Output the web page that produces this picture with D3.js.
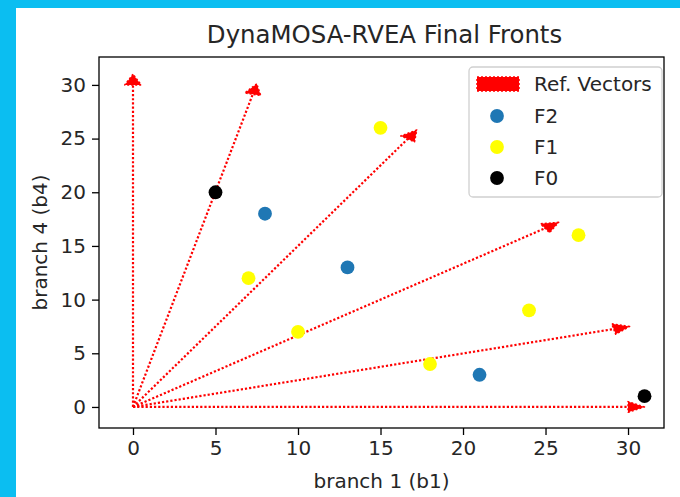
<!DOCTYPE html>
<html>
<head>
<meta charset="utf-8">
<script src="https://cdn.jsdelivr.net/npm/d3@7"></script>
<style>
  html, body { margin: 0; padding: 0; background: #0bbef1; }
  svg { display: block; }
</style>
</head>
<body>
<script>
// ---- data ----
const title = "DynaMOSA-RVEA Final Fronts";
const xLabel = "branch 1 (b1)";
const yLabel = "branch 4 (b4)";
const xTicks = [0, 5, 10, 15, 20, 25, 30];
const yTicks = [0, 5, 10, 15, 20, 25, 30];

// reference vectors: tip points (arrows start at origin)
const refX = [31, 30.1, 25.8, 17.2, 7.5, 0];
const refY = [0, 7.5, 17.2, 25.8, 30.1, 31];

const f2X = [8, 13, 21];
const f2Y = [18, 13, 3];
const f1X = [15, 27, 7, 10, 24, 18];
const f1Y = [26, 16, 12, 7, 9, 4];
const f0X = [5, 31];
const f0Y = [20, 1];

const seriesNames = ["F2", "F1", "F0"];
const seriesColors = ["#1f77b4", "#ffff00", "#000000"];

// ---- layout ----
const W = 680, H = 497;
const svg = d3.select("body").append("svg").attr("width", W).attr("height", H);
svg.append("rect").attr("x", 16).attr("y", 8).attr("width", W - 16).attr("height", H - 8).attr("fill", "#ffffff");

const plot = { left: 99, right: 664, top: 57, bottom: 428 };
const x = d3.scaleLinear().domain([-2.06, 32.18]).range([plot.left, plot.right]);
const y = d3.scaleLinear().domain([-1.96, 32.6]).range([plot.bottom, plot.top]);

const font = "DejaVu Sans, sans-serif";

// ---- arrows ----
const headLen = 1.0, headW = 1.0;
const gArr = svg.append("g");
refX.forEach((tx, i) => {
  const ty = refY[i];
  const L = Math.hypot(tx, ty);
  const ux = tx / L, uy = ty / L;
  const px = -uy, py = ux;
  const bx = tx - headLen * ux, by = ty - headLen * uy;
  gArr.append("line")
    .attr("x1", x(0)).attr("y1", y(0))
    .attr("x2", x(bx)).attr("y2", y(by))
    .attr("stroke", "#ff0000").attr("stroke-width", 2.2)
    .attr("stroke-dasharray", "2.2,2");
  const pts = [[tx, ty], [bx + px * headW / 2, by + py * headW / 2], [bx - px * headW / 2, by - py * headW / 2]];
  gArr.append("polygon")
    .attr("points", pts.map(p => x(p[0]) + "," + y(p[1])).join(" "))
    .attr("fill", "#ff0000").attr("stroke", "#ff0000").attr("stroke-width", 1.5)
    .attr("stroke-dasharray", "2,2").attr("stroke-linejoin", "round");
});

// ---- points ----
const R = 6.9;
const seriesX = [f2X, f1X, f0X];
const seriesY = [f2Y, f1Y, f0Y];
seriesX.forEach((xs, s) => {
  svg.append("g").selectAll("circle").data(xs).join("circle")
    .attr("cx", d => x(d)).attr("cy", (d, i) => y(seriesY[s][i]))
    .attr("r", R).attr("fill", seriesColors[s]);
});

// ---- axes ----
const xAxis = d3.axisBottom(x).tickValues(xTicks).tickSize(7).tickPadding(6).tickFormat(d3.format("d"));
const yAxis = d3.axisLeft(y).tickValues(yTicks).tickSize(7).tickPadding(6).tickFormat(d3.format("d"));
const gx = svg.append("g").attr("transform", `translate(0,${plot.bottom})`).call(xAxis);
const gy = svg.append("g").attr("transform", `translate(${plot.left},0)`).call(yAxis);
[gx, gy].forEach(g => {
  g.select(".domain").remove();
  g.selectAll(".tick line").attr("stroke", "#000").attr("stroke-width", 1.3);
  g.selectAll(".tick text").attr("fill", "#262626").attr("font-family", font).attr("font-size", 20);
});

svg.append("rect")
  .attr("x", plot.left).attr("y", plot.top)
  .attr("width", plot.right - plot.left).attr("height", plot.bottom - plot.top)
  .attr("fill", "none").attr("stroke", "#000").attr("stroke-width", 1.3);

// ---- titles ----
const cx = (plot.left + plot.right) / 2;
svg.append("text").attr("x", cx + 3).attr("y", 43).attr("text-anchor", "middle")
  .attr("font-family", font).attr("font-size", 24.4).attr("fill", "#262626").text(title);
svg.append("text").attr("x", cx).attr("y", 488).attr("text-anchor", "middle")
  .attr("font-family", font).attr("font-size", 20).attr("fill", "#262626").text(xLabel);
svg.append("text").attr("transform", `translate(47,${(plot.top + plot.bottom) / 2}) rotate(-90)`)
  .attr("text-anchor", "middle")
  .attr("font-family", font).attr("font-size", 20).attr("fill", "#262626").text(yLabel);

// ---- legend ----
const lg = svg.append("g");
lg.append("rect").attr("x", 469).attr("y", 67).attr("width", 193).attr("height", 130)
  .attr("rx", 4).attr("fill", "#fff").attr("fill-opacity", 0.8)
  .attr("stroke", "#d0d0d0").attr("stroke-width", 1.3);
const rowY = [84, 116, 147, 178];
lg.append("rect").attr("x", 477).attr("y", rowY[0] - 7).attr("width", 42).attr("height", 14)
  .attr("fill", "#ff0000").attr("stroke", "#ff0000").attr("stroke-width", 1.5).attr("stroke-dasharray", "2,2");
lg.append("text").attr("x", 534).attr("y", rowY[0]).attr("dy", "0.35em")
  .attr("font-family", font).attr("font-size", 20).attr("fill", "#262626").text("Ref. Vectors");
seriesNames.forEach((n, s) => {
  lg.append("circle").attr("cx", 497).attr("cy", rowY[s + 1]).attr("r", R).attr("fill", seriesColors[s]);
  lg.append("text").attr("x", 534).attr("y", rowY[s + 1]).attr("dy", "0.35em")
    .attr("font-family", font).attr("font-size", 20).attr("fill", "#262626").text(n);
});
</script>
</body>
</html>
